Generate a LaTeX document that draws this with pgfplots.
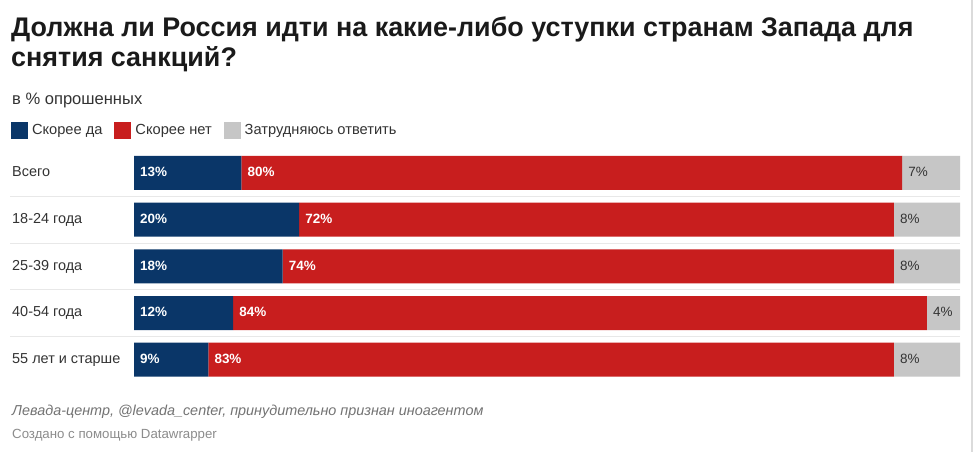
\documentclass[border=0pt]{standalone}
\usepackage{pgfplots}
\pgfplotsset{compat=1.18}
\usepackage{fontspec}
\setmainfont{Liberation Sans}
\definecolor{cblue}{HTML}{0A3668}
\definecolor{cred}{HTML}{C81E1E}
\definecolor{cgray}{HTML}{C6C6C6}
\definecolor{ctext}{HTML}{333333}
\definecolor{ctitle}{HTML}{1A1A1A}
\pgfplotsset{
  chartframe/.style={
    at={(134bp,-149.65bp)}, anchor=north west,
    scale only axis, width=826bp, height=233.4bp,
    xmin=0, xmax=100, ymin=-0.5, ymax=4.5, y dir=reverse,
    clip=false,
  }
}
\begin{document}
\begin{tikzpicture}
\useasboundingbox[fill=white] (0bp,0bp) rectangle (974bp,-452bp);
\node[anchor=base west, inner sep=0, font=\fontsize{27}{30}\selectfont\bfseries, text=ctitle] at (11bp,-36.7bp) {Должна ли Россия идти на какие-либо уступки странам Запада для};
\node[anchor=base west, inner sep=0, font=\fontsize{27}{30}\selectfont\bfseries, text=ctitle] at (11bp,-66.7bp) {снятия санкций?};
\node[anchor=base west, inner sep=0, font=\fontsize{16.6}{19}\selectfont, text=ctext] at (12bp,-104bp) {в \% опрошенных};
\foreach \yy in {196.3,243,289.7,336.4} \draw[color=black!9, line width=1bp] (10bp,-\yy bp) -- (960bp,-\yy bp);
\draw[black!14, line width=1.5bp] (972bp,0bp) -- (972bp,-452bp);
\node[anchor=base west, inner sep=0, font=\fontsize{14.45}{17}\selectfont\itshape, text=black!55] at (12bp,-415bp) {Левада-центр, @levada\_center, принудительно признан иноагентом};
\node[anchor=base west, inner sep=0, font=\fontsize{13.3}{16}\selectfont, text=black!45] at (12bp,-438bp) {Создано с помощью Datawrapper};
\begin{axis}[
  chartframe,
  xbar stacked, bar width=34bp,
  axis line style={draw=none},
  xtick=\empty,
  ytick={0,1,2,3,4},
  yticklabels={Всего,18-24 года,25-39 года,40-54 года,55 лет и старше},
  major tick length=0pt,
  yticklabel style={anchor=west, xshift=-122bp, inner sep=0pt, font=\fontsize{14.5}{17}\selectfont, text=ctext, text height=10.5bp, text depth=3bp},
  legend style={at={(axis description cs:-0.1489,1.1185)}, anchor=north west, draw=none, fill=none, inner sep=0pt, outer sep=0pt,
    font=\fontsize{14.7}{18}\selectfont, text=ctext,
    nodes={inner sep=0pt, text height=11bp, text depth=3bp},
    /tikz/every odd column/.style={column sep=4bp},
    /tikz/every even column/.style={column sep=12bp}},
  legend columns=-1,
  legend image code/.code={\fill[#1] (0bp,-8.5bp) rectangle (17bp,8.5bp);},
]
\addplot[fill=cblue, draw=none] coordinates {(13,0) (20,1) (18,2) (12,3) (9,4)};
\addlegendentry{Скорее да}
\addplot[fill=cred, draw=none] coordinates {(80,0) (72,1) (74,2) (84,3) (83,4)};
\addlegendentry{Скорее нет}
\addplot[fill=cgray, draw=none] coordinates {(7,0) (8,1) (8,2) (4,3) (8,4)};
\addlegendentry{Затрудняюсь ответить}
\end{axis}
% value labels, placed at the start of each segment
\begin{axis}[chartframe, hide axis]
\addplot[only marks, mark=none, point meta=explicit symbolic,
  nodes near coords={\pgfplotspointmeta\%},
  every node near coord/.style={anchor=west, xshift=6bp, inner sep=0pt, text=white, font=\fontsize{13.5}{16}\selectfont\bfseries, text height=10bp, text depth=2.5bp}]
  table[x=x, y=y, meta=m] {
x y m
0 0 13
0 1 20
0 2 18
0 3 12
0 4 9
13 0 80
20 1 72
18 2 74
12 3 84
9 4 83
};
\addplot[only marks, mark=none, point meta=explicit symbolic,
  nodes near coords={\pgfplotspointmeta\%},
  every node near coord/.style={anchor=west, xshift=6bp, inner sep=0pt, text=ctext, font=\fontsize{13.5}{16}\selectfont, text height=10bp, text depth=2.5bp}]
  table[x=x, y=y, meta=m] {
x y m
93 0 7
92 1 8
92 2 8
96 3 4
92 4 8
};
\end{axis}
\end{tikzpicture}
\end{document}
